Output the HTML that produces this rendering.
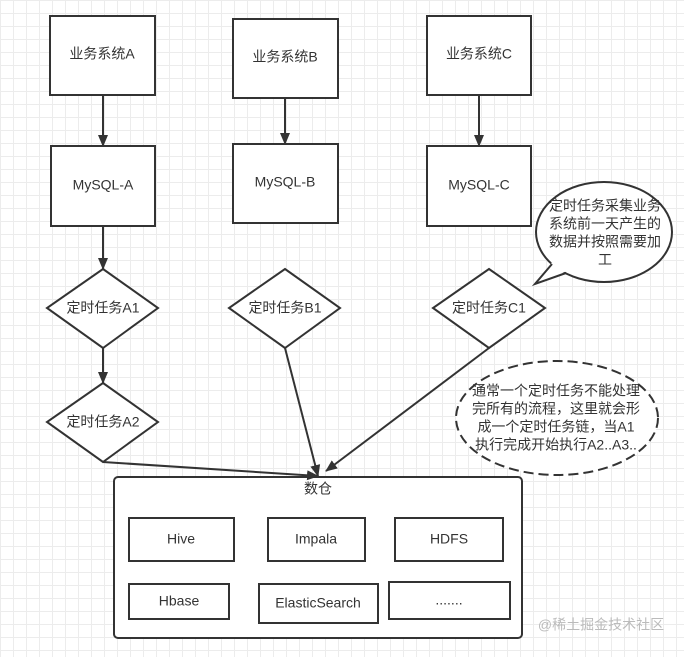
<!DOCTYPE html>
<html><head><meta charset="utf-8"><style>
html,body{margin:0;padding:0}
body{width:684px;height:652px;overflow:hidden;background:#fff;
background-image:linear-gradient(#ececec 1px,transparent 1px),linear-gradient(90deg,#ececec 1px,transparent 1px);background-size:13px 13px;}
svg text{font-family:"Liberation Sans","Noto Sans CJK SC",sans-serif;font-size:14px;fill:#333;text-anchor:middle;dominant-baseline:middle}
</style></head><body>
<svg width="684" height="652" xmlns="http://www.w3.org/2000/svg">
<defs><marker id="a" markerWidth="12" markerHeight="12" refX="11" refY="6" orient="auto" markerUnits="userSpaceOnUse"><path d="M0,1 L12,6 L0,11 z" fill="#333"/></marker></defs>
<g fill="#fff" stroke="#333" stroke-width="2">
<rect x="50" y="16" width="105" height="79"/>
<rect x="233" y="19" width="105" height="79"/>
<rect x="427" y="16" width="104" height="79"/>
<rect x="51" y="146" width="104" height="80"/>
<rect x="233" y="144" width="105" height="79"/>
<rect x="427" y="146" width="104" height="80"/>
<polygon points="103,269 158,308 103,348 47,308"/>
<polygon points="285,269 340,308 285,348 229,308"/>
<polygon points="489,269 545,308 489,348 433,308"/>
<polygon points="103,383 158,422 103,462 47,422"/>
<rect x="114" y="477" width="408" height="161" rx="4"/>
<rect x="129" y="518" width="105" height="43"/>
<rect x="268" y="518" width="97" height="43"/>
<rect x="395" y="518" width="108" height="43"/>
<rect x="129" y="584" width="100" height="35"/>
<rect x="259" y="584" width="119" height="39"/>
<rect x="389" y="582" width="121" height="37"/>
<ellipse cx="604" cy="232" rx="68" ry="50"/>
<ellipse cx="557" cy="418" rx="101" ry="57" stroke-dasharray="10,5"/>
</g>
<polygon points="553,261 535,284 567,271" fill="#fff"/>
<path d="M552,264 L535,284 L566,273" fill="none" stroke="#333" stroke-width="2"/>
<g stroke="#333" stroke-width="2" fill="none" marker-end="url(#a)">
<line x1="103" y1="95" x2="103" y2="146"/>
<line x1="285" y1="98" x2="285" y2="144"/>
<line x1="479" y1="95" x2="479" y2="146"/>
<line x1="103" y1="226" x2="103" y2="269"/>
<line x1="103" y1="348" x2="103" y2="383"/>
<line x1="103" y1="462" x2="318" y2="476"/>
<line x1="285" y1="348" x2="318" y2="476"/>
<line x1="489" y1="348" x2="326" y2="471"/>
</g>
<text x="102" y="55">业务系统A</text>
<text x="285" y="58">业务系统B</text>
<text x="479" y="55">业务系统C</text>
<text x="103" y="186">MySQL-A</text>
<text x="285" y="183">MySQL-B</text>
<text x="479" y="186">MySQL-C</text>
<text x="103" y="309">定时任务A1</text>
<text x="285" y="309">定时任务B1</text>
<text x="489" y="309">定时任务C1</text>
<text x="103" y="423">定时任务A2</text>
<text x="318" y="490">数仓</text>
<text x="181" y="540">Hive</text>
<text x="316" y="540">Impala</text>
<text x="449" y="540">HDFS</text>
<text x="179" y="602">Hbase</text>
<text x="318" y="604">ElasticSearch</text>
<text x="449" y="601">.......</text>
<text x="605" y="207">定时任务采集业务</text>
<text x="605" y="225">系统前一天产生的</text>
<text x="605" y="243">数据并按照需要加</text>
<text x="605" y="261">工</text>
<text x="556" y="392">通常一个定时任务不能处理</text>
<text x="556" y="410">完所有的流程，这里就会形</text>
<text x="556" y="428">成一个定时任务链，当A1</text>
<text x="556" y="446">执行完成开始执行A2..A3..</text>
<text x="601" y="626" style="fill:#bbb;font-size:14px">@稀土掘金技术社区</text>
</svg>
</body></html>
